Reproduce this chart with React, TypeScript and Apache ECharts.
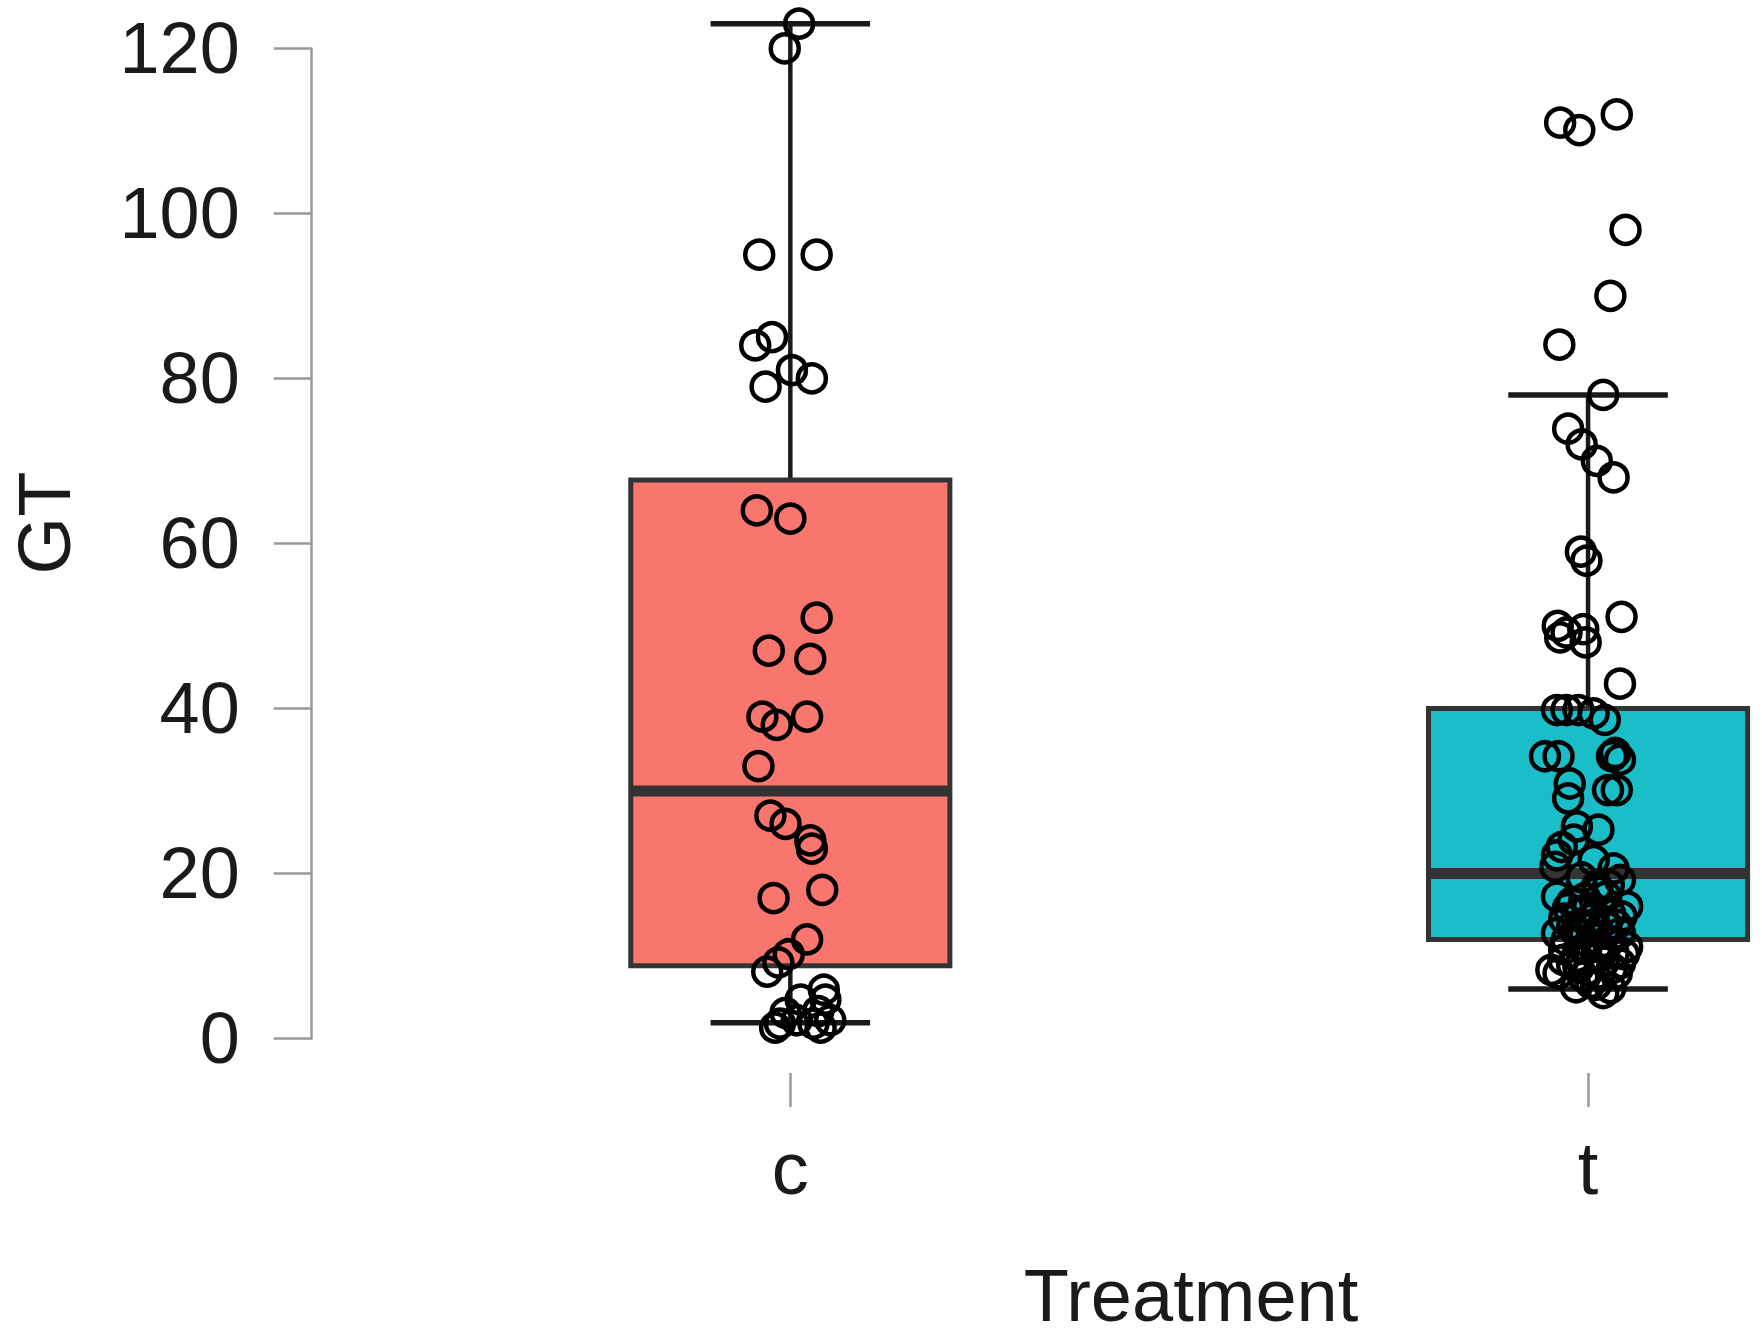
import React, { useEffect, useRef } from "react";
import * as echarts from "echarts";

// ---- data ----
const categories = ["c", "t"];
const categoryPositions = [1, 2];
const yTickValues = [0, 20, 40, 60, 80, 100, 120];

// box statistics: [lower whisker, Q1, median, Q3, upper whisker]
const boxStatsC = [1.9, 8.8, 30, 67.7, 123];
const boxStatsT = [6, 12, 20, 40, 78];
const boxColors = ["#F8766D", "#19BEC8"];

// jittered points: horizontal jitter (category units) and GT value
const cJitter = [
  0.011, -0.007, -0.039, 0.033, -0.023, -0.044, 0.002, 0.027, -0.031,
  -0.042, 0.0, 0.033, -0.027, 0.025, -0.035, -0.017, 0.021, -0.04,
  -0.025, -0.006, 0.025, 0.027, -0.021, 0.04, 0.021, -0.002, -0.015,
  -0.029, 0.042, 0.013, 0.044, -0.006, 0.035, -0.013, 0.029, 0.05,
  0.008, -0.019, 0.038,
];
const cValues = [
  123, 120, 95, 95, 85, 84, 81, 80, 79,
  64, 63, 51, 47, 46, 39, 38, 39, 33,
  27, 26, 24, 23, 17, 18, 12, 10.2, 9.2,
  8.1, 5.9, 4.7, 4.7, 3.1, 3.3, 1.8, 1.8, 2.2,
  2.2, 1.3, 1.3,
];
const tJitter = [
  -0.035, -0.011, 0.036, 0.047, 0.028, -0.036, 0.019, -0.025, -0.008,
  0.011, 0.032, -0.009, -0.002, 0.042, -0.038, -0.027, -0.006, -0.003,
  -0.035, 0.04, -0.039, -0.027, -0.012, 0.007, 0.021, -0.054, -0.037,
  0.03, 0.04, 0.034, -0.023, 0.025, 0.036, -0.025, -0.014, 0.013,
  -0.018, -0.033, -0.039, -0.041, 0.007, 0.032, 0.04, -0.039, -0.025,
  0.049, -0.01, 0.023, 0.011, -0.039, -0.027, -0.01, 0.007, 0.023,
  0.04, 0.049, 0.032, 0.011, -0.014, -0.031, -0.046, -0.037, -0.006,
  0.015, 0.036, 0.019, 0.003, 0.04, 0.003, 0.028, -0.004, 0.015,
  -0.02, -0.012, -0.02, 0.0, 0.02, 0.035, -0.015, 0.005, 0.025,
  -0.03, -0.005, 0.045, 0.02, -0.02, 0.0, 0.03, 0.01, -0.015,
  0.028, -0.03, 0.042, 0.012, -0.008, 0.026,
];
const tValues = [
  111, 110.1, 112, 98, 90, 84.1, 78, 73.9, 72,
  70, 68, 59, 57.9, 51.1, 50, 49.2, 49.6, 48,
  48.6, 43, 39.8, 39.8, 39.8, 39.4, 38.6, 34.2, 34.2,
  34.2, 33.8, 34.6, 30.9, 30.1, 30.1, 29.1, 25.7, 25.3,
  24.1, 23.2, 22.2, 20.8, 21.6, 20.6, 19.2, 17.2, 15.8,
  16, 15.2, 17.2, 18.4, 12.75, 11.9, 12.75, 13.55, 13.55,
  12.75, 11.1, 10.3, 11.1, 9.9, 9.5, 8.3, 7.9, 7.5,
  7.9, 7.9, 5.5, 6.7, 9.1, 14.5, 15, 17, 10,
  13.5, 8.6, 16.5, 15.8, 14.2, 13.8, 13, 12.2, 11.6,
  10.8, 10.9, 10.2, 9.3, 8.9, 8.2, 8.5, 6.5, 6.2,
  6.1, 14.5, 14.8, 17.8, 19.5, 18.6,
];

const BOX_WIDTH = 0.4;
const CAP_WIDTH = 0.2;
const X_MIN = 0.4;
const X_MAX = 2.2;
const FONT = "'Liberation Sans', Arial, Helvetica, sans-serif";

export default function App() {
  const ref = useRef<HTMLDivElement>(null);

  useEffect(() => {
    if (!ref.current) return;
    const chart = echarts.init(ref.current, undefined, { renderer: "svg" });

    const boxData = [boxStatsC, boxStatsT].map((s, i) => [categoryPositions[i], ...s]);
    const cPoints = cValues.map((v, i) => [categoryPositions[0] + cJitter[i], v]);
    const tPoints = tValues.map((v, i) => [categoryPositions[1] + tJitter[i], v]);

    const option: any = {
      animation: false,
      backgroundColor: "#ffffff",
      grid: [
        { left: 311.7, right: 14.4, top: 48.4, bottom: 298.6, containLabel: false },
        // detached category axis below the plot (as in base R)
        { left: 311.7, right: 14.4, top: 1072, height: 1, containLabel: false },
      ],
      xAxis: [
        {
          type: "value",
          gridIndex: 0,
          min: X_MIN,
          max: X_MAX,
          show: false,
          splitLine: { show: false },
        },
        {
          type: "value",
          gridIndex: 1,
          min: X_MIN,
          max: X_MAX,
          position: "bottom",
          axisLine: { show: false },
          splitLine: { show: false },
          axisTick: {
            show: true,
            inside: false,
            customValues: categoryPositions,
            length: 34,
            lineStyle: { color: "#999999", width: 2.5 },
          },
          axisLabel: {
            show: true,
            customValues: categoryPositions,
            formatter: (v: number) => categories[categoryPositions.indexOf(Math.round(v))] ?? "",
            fontSize: 74,
            fontFamily: FONT,
            color: "#1a1a1a",
            margin: 58,
          },
        },
      ],
      yAxis: [
        {
          type: "value",
          gridIndex: 0,
          min: 0,
          max: 120,
          interval: 20,
          axisLine: { show: true, lineStyle: { color: "#999999", width: 2.5 } },
          axisTick: { show: true, length: 38, lineStyle: { color: "#999999", width: 2.5 } },
          splitLine: { show: false },
          axisLabel: {
            fontSize: 72,
            fontFamily: FONT,
            color: "#1a1a1a",
            margin: 72,
            customValues: yTickValues,
          },
        },
        {
          type: "value",
          gridIndex: 1,
          min: 0,
          max: 1,
          show: false,
          splitLine: { show: false },
        },
      ],
      graphic: [
        {
          type: "text",
          x: 44,
          y: 523,
          rotation: Math.PI / 2,
          style: {
            text: "GT",
            fontSize: 74,
            lineHeight: 60,
            fontFamily: FONT,
            fill: "#1a1a1a",
            align: "center",
            verticalAlign: "middle",
            textAlign: "center",
            textVerticalAlign: "middle",
          },
        },
        {
          type: "text",
          x: 1191,
          y: 1295,
          style: {
            text: "Treatment",
            fontSize: 74,
            lineHeight: 56,
            fontFamily: FONT,
            fill: "#1a1a1a",
            align: "center",
            verticalAlign: "middle",
            textAlign: "center",
            textVerticalAlign: "middle",
          },
        },
      ],
      series: [
        {
          type: "custom",
          xAxisIndex: 0,
          yAxisIndex: 0,
          clip: false,
          z: 2,
          data: boxData,
          renderItem: (params: any, api: any) => {
            const idx = params.dataIndex;
            const x = api.value(0);
            const lo = api.coord([x, api.value(1)]);
            const q1 = api.coord([x, api.value(2)]);
            const md = api.coord([x, api.value(3)]);
            const q3 = api.coord([x, api.value(4)]);
            const hi = api.coord([x, api.value(5)]);
            const halfBox = api.size([BOX_WIDTH, 0])[0] / 2;
            const halfCap = api.size([CAP_WIDTH, 0])[0] / 2;
            const cx = q1[0];
            const wStyle = { stroke: "#1a1a1a", lineWidth: 4.5 };
            const capStyle = { stroke: "#1a1a1a", lineWidth: 5.5 };
            return {
              type: "group",
              children: [
                { type: "line", shape: { x1: cx, y1: q3[1], x2: cx, y2: hi[1] }, style: wStyle },
                { type: "line", shape: { x1: cx, y1: q1[1], x2: cx, y2: lo[1] }, style: wStyle },
                { type: "line", shape: { x1: cx - halfCap, y1: hi[1], x2: cx + halfCap, y2: hi[1] }, style: capStyle },
                { type: "line", shape: { x1: cx - halfCap, y1: lo[1], x2: cx + halfCap, y2: lo[1] }, style: capStyle },
                {
                  type: "rect",
                  shape: { x: cx - halfBox, y: q3[1], width: halfBox * 2, height: q1[1] - q3[1] },
                  style: { fill: boxColors[idx], stroke: "#333333", lineWidth: 5 },
                },
                {
                  type: "line",
                  shape: { x1: cx - halfBox, y1: md[1], x2: cx + halfBox, y2: md[1] },
                  style: { stroke: "#333333", lineWidth: 11 },
                },
              ],
            };
          },
        },
        {
          type: "scatter",
          xAxisIndex: 0,
          yAxisIndex: 0,
          clip: false,
          z: 3,
          symbol: "circle",
          symbolSize: 28,
          data: cPoints,
          itemStyle: { color: "rgba(0,0,0,0)", borderColor: "#000000", borderWidth: 4.5, opacity: 1 },
        },
        {
          type: "scatter",
          xAxisIndex: 0,
          yAxisIndex: 0,
          clip: false,
          z: 3,
          symbol: "circle",
          symbolSize: 28,
          data: tPoints,
          itemStyle: { color: "rgba(0,0,0,0)", borderColor: "#000000", borderWidth: 4.5, opacity: 1 },
        },
      ],
    };

    chart.setOption(option);
    return () => chart.dispose();
  }, []);

  return (
    <div
      ref={ref}
      style={{ position: "absolute", left: 0, top: 0, width: 1762, height: 1337, background: "#fff" }}
    />
  );
}
